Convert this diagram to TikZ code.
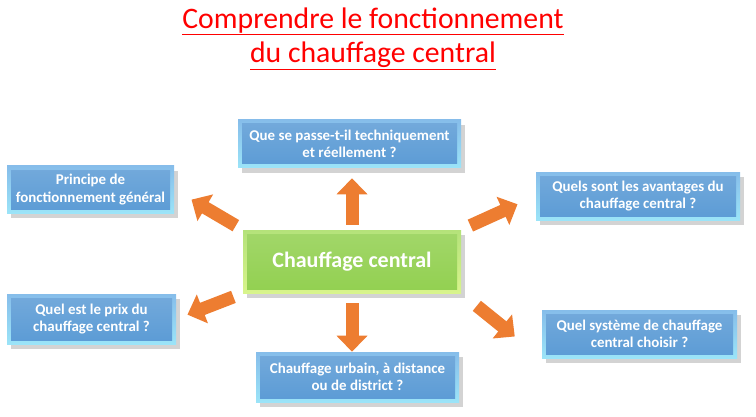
\documentclass[tikz,border=0pt]{standalone}
\usepackage{fontspec}
\setmainfont{Carlito}
\usepackage{xcolor}
\usepackage{tikz}
\usetikzlibrary{arrows.meta,shadows,calc}
\definecolor{chtitle}{HTML}{FF0000}
\definecolor{chblue}{HTML}{5B9BD5}
\definecolor{chbluetop}{HTML}{86BDEA}
\definecolor{chbluebot}{HTML}{9BE4F8}
\definecolor{chgreen}{HTML}{92D050}
\definecolor{chgreentop}{HTML}{B4E27A}
\definecolor{chgreenbot}{HTML}{D8F48C}
\definecolor{chorange}{HTML}{ED7D31}
\begin{document}
\begin{tikzpicture}[x=0.75pt,y=-0.75pt,
  qbox/.style={rectangle,top color=chbluetop,bottom color=chbluebot,text=white,
    font=\fontsize{11.2}{13}\selectfont\bfseries,align=center,inner sep=0pt,
    drop shadow={shadow xshift=3pt,shadow yshift=-4pt,opacity=0.35},
    path picture={\fill[top color=chblue!85!white,bottom color=chblue]
      ($(path picture bounding box.south west)+(3pt,3pt)$) rectangle
      ($(path picture bounding box.north east)+(-3pt,-3pt)$);}},
  cbox/.style={rectangle,top color=chgreentop,bottom color=chgreenbot,text=white,
    font=\fontsize{16.5}{19}\selectfont\bfseries,align=center,inner sep=0pt,
    drop shadow={shadow xshift=3pt,shadow yshift=-4pt,opacity=0.35},
    path picture={\fill[top color=chgreen!85!white,bottom color=chgreen]
      ($(path picture bounding box.south west)+(3pt,3pt)$) rectangle
      ($(path picture bounding box.north east)+(-3pt,-3pt)$);}},
  barrow/.style={chorange,line width=9.75pt,-{Triangle[width=22.5pt,length=12pt]}}
]
\useasboundingbox (0,0) rectangle (756,417);

% title
\node[text=chtitle,font=\fontsize{22.3}{26}\selectfont,align=center] (title) at (373,39)
  {\underline{Comprendre le fonctionnement}\\\underline{du chauffage central}};

% central node and questions
\node[cbox,minimum width=163.5pt,minimum height=47.25pt] (cen) at (352,261.5) {Chauffage central};
\node[qbox,minimum width=167.25pt,minimum height=36pt] (top) at (349.5,144)
  {Que se passe-t-il techniquement\\et réellement ?};
\node[qbox,minimum width=125.25pt,minimum height=35.25pt] (lt) at (90.5,189.5)
  {Principe de\\fonctionnement général};
\node[qbox,minimum width=153pt,minimum height=36pt] (rt) at (638,196)
  {Quels sont les avantages du\\chauffage central ?};
\node[qbox,minimum width=126.75pt,minimum height=37.5pt] (lb) at (91.5,319)
  {Quel est le prix du\\chauffage central ?};
\node[qbox,minimum width=146.25pt,minimum height=36pt] (rb) at (639.5,334)
  {Quel système de chauffage\\central choisir ?};
\node[qbox,minimum width=152.25pt,minimum height=37.5pt] (bot) at (357.5,377)
  {Chauffage urbain, à distance\\ou de district ?};

% arrows
\draw[barrow,shorten <=3.75pt,shorten >=7.5pt] (cen.north) -- (cen.north |- top.south);
\draw[barrow,shorten <=7.5pt] (cen.south) -- (cen.south |- bot.north);
\draw[barrow,shorten <=6pt,shorten >=15pt] (cen.north west) -- (lt.east);
\draw[barrow,shorten <=7.5pt,shorten >=15pt] (cen.north east) -- (rt.west);
\draw[barrow,shorten <=7.5pt,shorten >=9pt] (cen.south west) -- (lb.east);
\draw[barrow,shorten <=15pt,shorten >=26pt] (cen.south east) -- (rb.south west);
\end{tikzpicture}
\end{document}
